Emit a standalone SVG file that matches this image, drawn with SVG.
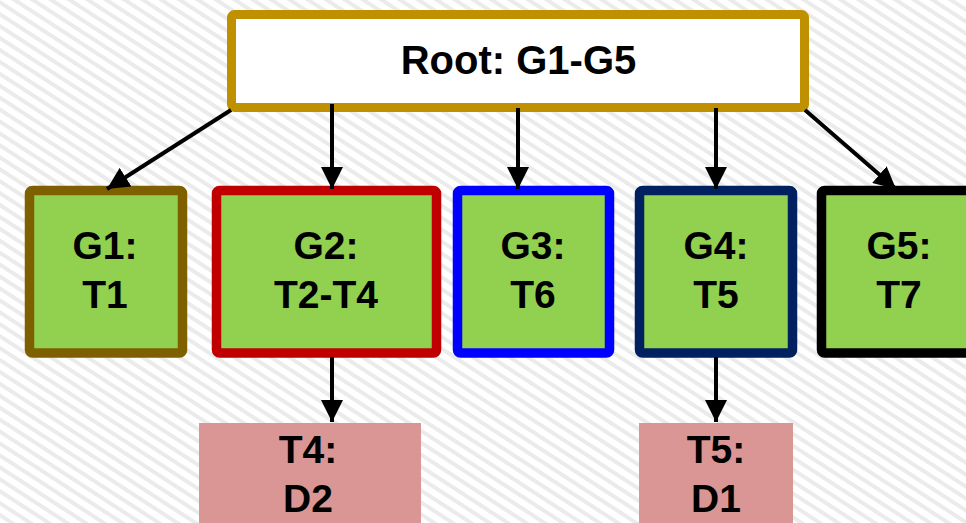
<svg xmlns="http://www.w3.org/2000/svg" width="966" height="523" viewBox="0 0 966 523">
<defs>
<pattern id="bg" width="10" height="10" patternUnits="userSpaceOnUse" patternTransform="rotate(33)">
<rect width="10" height="10" fill="#ffffff"/>
<rect width="10" height="4" fill="#ebebeb"/>
</pattern>
<marker id="ah" viewBox="0 0 10 10" refX="10" refY="5" markerWidth="5.5" markerHeight="5.5" orient="auto" markerUnits="strokeWidth">
<path d="M0,0 L10,5 L0,10 z" fill="#000"/>
</marker>
<style>
.t{font-family:"Liberation Sans",Arial,sans-serif;font-weight:bold;font-size:39px;text-anchor:middle;fill:#000}
.r{font-size:40px}
.g{fill:#92d050;stroke-width:9.5}
.d{fill:#da9694}
.c{stroke:#000;stroke-width:4;fill:none;marker-end:url(#ah)}
</style>
</defs>
<rect width="966" height="523" fill="url(#bg)"/>
<g id="root">
<rect x="231.5" y="14.5" width="573" height="93" rx="3" fill="#fff" stroke="#bf9000" stroke-width="9"/>
<text class="t r" x="518.5" y="74">Root: G1-G5</text>
</g>
<g id="g1">
<rect class="g" x="29.5" y="190.5" width="153" height="162.5" rx="3" stroke="#7f6000"/>
<text class="t" x="105" y="259">G1:</text>
<text class="t" x="105" y="308">T1</text>
</g>
<g id="g2">
<rect class="g" x="216.5" y="190.5" width="220" height="162.5" rx="3" stroke="#c00000"/>
<text class="t" x="326" y="259">G2:</text>
<text class="t" x="326" y="308">T2-T4</text>
</g>
<g id="g3">
<rect class="g" x="457.5" y="190.5" width="152" height="162.5" rx="3" stroke="#0000ff"/>
<text class="t" x="533" y="259">G3:</text>
<text class="t" x="533" y="308">T6</text>
</g>
<g id="g4">
<rect class="g" x="639.5" y="190.5" width="153" height="162.5" rx="3" stroke="#002060"/>
<text class="t" x="716" y="259">G4:</text>
<text class="t" x="716" y="308">T5</text>
</g>
<g id="g5">
<rect class="g" x="821.5" y="190.5" width="160" height="162.5" rx="3" stroke="#000000"/>
<text class="t" x="899" y="259">G5:</text>
<text class="t" x="899" y="308">T7</text>
</g>
<g id="t4">
<rect class="d" x="199" y="423" width="222" height="100"/>
<text class="t" x="308" y="463">T4:</text>
<text class="t" x="308" y="512">D2</text>
</g>
<g id="t5">
<rect class="d" x="639" y="423" width="154" height="100"/>
<text class="t" x="716" y="463">T5:</text>
<text class="t" x="716" y="512">D1</text>
</g>
<g id="connectors">
<line class="c" x1="231" y1="110" x2="107" y2="189"/>
<line class="c" x1="332" y1="104" x2="332" y2="189"/>
<line class="c" x1="518" y1="108" x2="518" y2="189"/>
<line class="c" x1="716" y1="108" x2="716" y2="189"/>
<line class="c" x1="805" y1="110" x2="896" y2="189"/>
<line class="c" x1="332" y1="357" x2="332" y2="422"/>
<line class="c" x1="716" y1="357" x2="716" y2="422"/>
</g>
</svg>
